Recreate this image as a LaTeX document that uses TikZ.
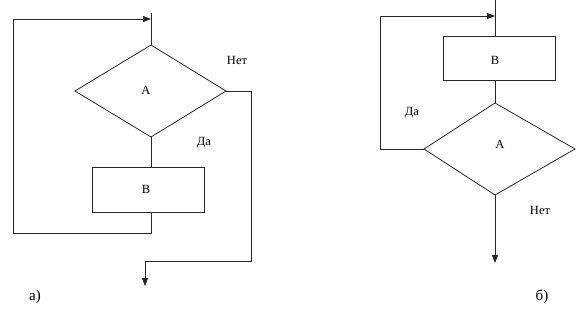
\documentclass[tikz,border=0pt]{standalone}
\usepackage{fontspec}
\setmainfont{Liberation Serif}
\usetikzlibrary{shapes.geometric,arrows.meta}
\begin{document}
\begin{tikzpicture}[x=1pt,y=-1pt,
  flow/.style={line width=0.8pt,draw=black!85},
  arr/.style={flow,-{Triangle[length=8pt,width=6pt]}},
  lbl/.style={font=\fontsize{12.5}{14}\selectfont,inner sep=0pt},
  caps/.style={font=\fontsize{15}{17}\selectfont,inner sep=0pt}]
\useasboundingbox (0,0) rectangle (587,319);
% ---------- a) ----------
\coordinate (aT) at (151,45);
\coordinate (aL) at (75,91);
\coordinate (aR) at (226,91);
\coordinate (aB) at (151,137);
\draw[flow] (aT) -- (aR) -- (aB) -- (aL) -- cycle;
\node[lbl] (aA) at (146,90) {А};
\node[flow,draw,minimum width=112pt,minimum height=45pt,inner sep=0pt] (aBox) at (148,189.5) {};
\node[lbl] (aBt) at (146,189) {В};
\coordinate (aTop) at (151,13);
\coordinate (aEnter) at (151,19);
\coordinate (aLoopA) at (13,19);
\coordinate (aLoopB) at (13,233);
\coordinate (aLoopC) at (151,233);
\coordinate (aR1) at (251,91);
\coordinate (aR2) at (251,261);
\coordinate (aR3) at (145,261);
\coordinate (aEnd) at (145,286);
\draw[flow] (aTop) -- (aT);
\draw[flow] (aB) -- (aBox.north -| aB);
\draw[flow] (aBox.south -| aB) -- (aLoopC) -- (aLoopB) -- (aLoopA);
\draw[arr] (aLoopA) -- (aEnter);
\draw[flow] (aR) -- (aR1) -- (aR2) -- (aR3);
\draw[arr] (aR3) -- (aEnd);
\node[lbl] (aNo) at (237,60) {Нет};
\node[lbl] (aYes) at (204,143) {Да};
\node[caps] (aCap) at (35,297) {а)};
% ---------- b) ----------
\coordinate (bTop) at (495,0);
\coordinate (bEnter) at (495,16);
\node[flow,draw,minimum width=112pt,minimum height=44pt,inner sep=0pt] (bBox) at (499,58) {};
\node[lbl] (bBt) at (495,60) {В};
\coordinate (bT) at (495,103);
\coordinate (bL) at (424,149);
\coordinate (bR) at (575,149);
\coordinate (bB) at (495,195);
\draw[flow] (bT) -- (bR) -- (bB) -- (bL) -- cycle;
\node[lbl] (bA) at (500,144) {А};
\coordinate (bLoopA) at (380,149);
\coordinate (bLoopB) at (380,16);
\coordinate (bEnd) at (495,263);
\draw[flow] (bTop) -- (bBox.north -| bTop);
\draw[flow] (bBox.south -| bT) -- (bT);
\draw[flow] (bL) -- (bLoopA) -- (bLoopB);
\draw[arr] (bLoopB) -- (bEnter);
\draw[arr] (bB) -- (bEnd);
\node[lbl] (bYes) at (412,113) {Да};
\node[lbl] (bNo) at (540,210) {Нет};
\node[caps] (bCap) at (542,297) {б)};
\end{tikzpicture}
\end{document}
